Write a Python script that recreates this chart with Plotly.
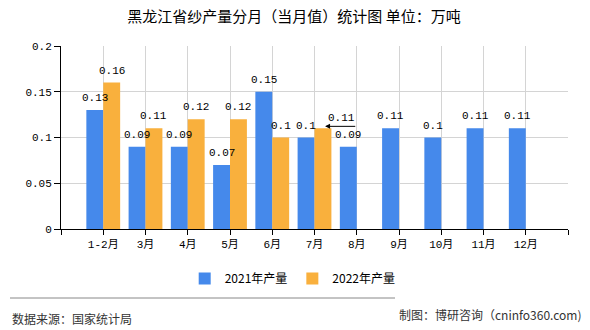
import plotly.graph_objects as go

categories = ["1-2月", "3月", "4月", "5月", "6月", "7月", "8月", "9月", "10月", "11月", "12月"]
values_2021 = [0.13, 0.09, 0.09, 0.07, 0.15, 0.1, 0.09, 0.11, 0.1, 0.11, 0.11]
values_2022 = [0.16, 0.11, 0.12, 0.12, 0.1, 0.11, None, None, None, None, None]
series_names = ["2021年产量", "2022年产量"]
y_ticks = [0, 0.05, 0.1, 0.15, 0.2]

xs = list(range(len(categories)))
MONO = "Liberation Mono, Noto Sans CJK SC, monospace"
CJK = "Noto Sans CJK SC, sans-serif"
BAR_W = 0.4

def fmt(v):
    return "" if v is None else ("%g" % v)

fig = go.Figure()
fig.add_trace(go.Bar(x=xs, y=values_2021, name=series_names[0], marker_color="#4589EB",
                     marker_line_width=0))
fig.add_trace(go.Bar(x=xs, y=values_2022, name=series_names[1], marker_color="#F9B03D",
                     marker_line_width=0))

lab_font = dict(family=MONO, size=11, color="#000")
moved_idx = 5  # 7月 2022 label displaced with a leader arrow
for off, vals in ((-BAR_W / 2, values_2021), (BAR_W / 2, values_2022)):
    for i, v in enumerate(vals):
        if v is None:
            continue
        if vals is values_2022 and i == moved_idx:
            fig.add_annotation(x=i + 0.64, y=v, yshift=10, text=fmt(v), showarrow=False,
                               font=lab_font)
            fig.add_annotation(x=i + 0.25, y=v, yshift=2, ax=i + 1.0, ay=v, axref="x", ayref="y",
                               text="", showarrow=True, arrowhead=2, arrowsize=1, arrowwidth=1,
                               arrowcolor="#000")
            continue
        fig.add_annotation(x=i + off, y=v, yshift=12, text=fmt(v), showarrow=False, font=lab_font)

fig.update_layout(
    width=590, height=330,
    margin=dict(l=61, r=22, t=46, b=101),
    paper_bgcolor="white", plot_bgcolor="white",
    barmode="group", bargap=0.2, bargroupgap=0,
    title=dict(text="黑龙江省纱产量分月（当月值）统计图 单位：万吨", x=294/590, y=1-17/330,
               xanchor="center", yanchor="middle", font=dict(family=CJK, size=15, color="#000")),
    legend=dict(orientation="h", x=0.457, xanchor="center", y=-0.27, yanchor="middle",
                font=dict(family=CJK, size=12, color="#000"), itemwidth=30,
                traceorder="normal"),
    xaxis=dict(range=[-1, 11], tickmode="array", tickvals=[-1] + xs + [11],
               ticktext=[""] + categories + [""], showgrid=True, gridcolor="#d4d4d4",
               showline=True, linecolor="#000", linewidth=1, ticks="outside", ticklen=5,
               tickcolor="#000", tickfont=dict(family=MONO, size=11, color="#000"), zeroline=False),
    yaxis=dict(range=[0, 0.2], tickmode="array", tickvals=y_ticks, ticktext=[fmt(v) for v in y_ticks],
               showgrid=True, gridcolor="#d4d4d4", showline=True, linecolor="#000", linewidth=1,
               ticks="outside", ticklen=6, tickcolor="#000", zeroline=False,
               tickfont=dict(family=MONO, size=11, color="#000")),
    showlegend=True,
)

# separator line and footer texts
fig.add_shape(type="line", xref="paper", yref="paper", x0=(10-61)/507, x1=(395-61)/507,
              y0=(229-298)/183, y1=(229-298)/183, line=dict(color="#888", width=1))
fig.add_annotation(xref="paper", yref="paper", x=(10-61)/507, y=(229-318)/183, xanchor="left",
                   yanchor="middle", text="数据来源：国家统计局", showarrow=False,
                   font=dict(family=CJK, size=12, color="#333"))
fig.add_annotation(xref="paper", yref="paper", x=(584-61)/507, y=(229-314)/183, xanchor="right",
                   yanchor="middle", text="制图：博研咨询（cninfo360.com)", showarrow=False,
                   font=dict(family=CJK, size=12, color="#333"))

fig.write_html("out.html")
